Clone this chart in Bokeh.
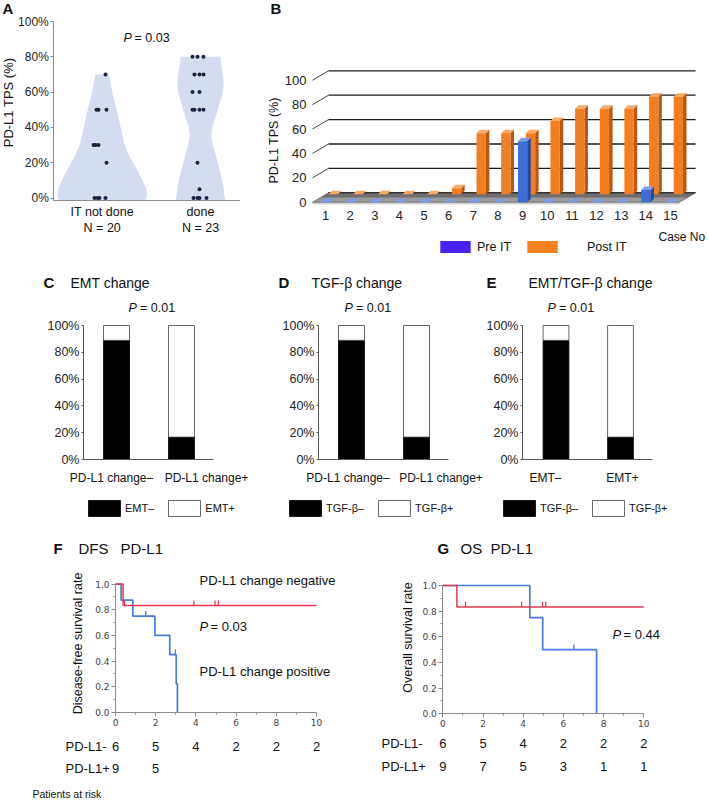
import math
from bokeh.plotting import figure
from bokeh.models import Range1d, FixedTicker, Label, Legend, LegendItem, PrintfTickFormatter
from bokeh.layouts import row, column
from bokeh.embed import file_html
from bokeh.resources import INLINE

FONT = "Liberation Sans"
SMALL_FONT = "DejaVu Sans"
INK = "#111111"

# ================= DATA =================
# Panel A: PD-L1 TPS (%) by immunotherapy status
a_groups = ["IT not done", "done"]
a_group_n = [20, 23]
a_tps_not_done = [70, 50, 50, 50, 30, 30, 30, 20, 0, 0, 0, 0]
a_tps_done = [80, 80, 80, 70, 70, 70, 60, 60, 50, 50, 50, 50, 20, 5, 0, 0, 0, 0]
# violin outlines: level (%) and half width (group units)
a_violin_levels_nd = [-1.4, 1, 5, 10, 18, 24, 31, 40, 50, 60, 70]
a_violin_half_nd = [0.44, 0.455, 0.45, 0.41, 0.336, 0.275, 0.224, 0.188, 0.148, 0.102, 0.071]
a_violin_levels_d = [-1.4, 5, 10, 20, 30, 35, 40, 50, 60, 65, 70, 75, 80]
a_violin_half_d = [0.251, 0.237, 0.221, 0.176, 0.125, 0.109, 0.119, 0.176, 0.227, 0.237, 0.227, 0.211, 0.203]

# Panel B: PD-L1 TPS (%) per case, pre / post immunotherapy
b_cases = list(range(1, 16))
b_pre_it = [0, 0, 0, 0, 0, 0, 0, 0, 50, 0, 0, 0, 0, 10, 0]
b_post_it = [0, 0, 0, 0, 0, 5, 50, 50, 50, 60, 70, 70, 70, 80, 80]
b_ticks = [0, 20, 40, 60, 80, 100]

# Panels C, D, E: % negative (black) in each group
c_categories = ["PD-L1 change\u2013", "PD-L1 change+"]
c_emt_neg = [88.9, 16.7]
d_categories = ["PD-L1 change\u2013", "PD-L1 change+"]
d_tgf_neg = [88.9, 16.7]
e_categories = ["EMT\u2013", "EMT+"]
e_tgf_neg = [88.9, 16.7]
pct_ticks = [0, 20, 40, 60, 80, 100]

# Panel F: DFS Kaplan-Meier
f_neg_t = [0, 0.38, 10]
f_neg_s = [1.0, 0.833, 0.833]
f_neg_cens_t = [0.45, 3.9, 4.95, 5.12]
f_neg_cens_s = [0.833, 0.833, 0.833, 0.833]
f_pos_t = [0, 0.28, 0.86, 1.96, 2.70, 3.02, 3.08]
f_pos_s = [1.0, 0.875, 0.75, 0.6, 0.45, 0.225, 0.0]
f_pos_cens_t = [1.5, 2.98]
f_pos_cens_s = [0.75, 0.45]
# Panel G: OS Kaplan-Meier
g_neg_t = [0, 0.70, 10]
g_neg_s = [1.0, 0.833, 0.833]
g_neg_cens_t = [1.13, 3.92, 4.96, 5.12]
g_neg_cens_s = [0.833, 0.833, 0.833, 0.833]
g_pos_t = [0, 4.33, 4.97, 7.65]
g_pos_s = [1.0, 0.75, 0.5, 0.0]
g_pos_cens_t = [6.52]
g_pos_cens_s = [0.5]
# numbers at risk
risk_times = [0, 2, 4, 6, 8, 10]
f_risk_neg = [6, 5, 4, 2, 2, 2]
f_risk_pos = [9, 5]
g_risk_neg = [6, 5, 4, 2, 2, 2]
g_risk_pos = [9, 7, 5, 3, 1, 1]

RED = "#e03a4f"
BLUE = "#4a7adb"


# ================= HELPERS =================
def make_panel(x0, y0, w, h, xmap, ymap):
    """xmap/ymap = (pixel anchor, data value at anchor, pixels per data unit)."""
    def X(px):
        return xmap[1] + (px - xmap[0]) / xmap[2]

    def Y(py):
        return ymap[1] + (ymap[0] - py) / ymap[2]
    p = figure(width=w, height=h, x_range=Range1d(X(x0), X(x0 + w)),
               y_range=Range1d(Y(y0 + h), Y(y0)),
               output_backend="svg", toolbar_location=None, title=None,
               min_border_left=0, min_border_right=0, min_border_top=0, min_border_bottom=0)
    p.outline_line_color = None
    p.xgrid.visible = False
    p.ygrid.visible = False
    p.border_fill_color = "white"
    p.background_fill_color = "white"
    return p, X, Y


def txt(p, x, y, text, size, style="normal", align="left", angle=0.0, color=INK, font=FONT):
    p.add_layout(Label(x=x, y=y, text=text, text_font=font, text_font_size=f"{size}px",
                       text_font_style=style, text_align=align, text_baseline="middle",
                       angle=angle, text_color=color))


def style_axis(ax, size, color="#222222", font=FONT, line=None, tick_out=0, standoff=4):
    ax.major_label_text_font = font
    ax.major_label_text_font_size = f"{size}px"
    ax.major_label_text_color = color
    ax.axis_line_color = line
    ax.major_tick_line_color = line if tick_out else None
    ax.major_tick_out = tick_out
    ax.major_tick_in = 0
    ax.minor_tick_line_color = None
    ax.major_label_standoff = standoff


def legend(items, loc, gw, gh, standoff, spacing, size):
    return Legend(items=[LegendItem(label=l, renderers=[r]) for l, r in items], location=loc,
                  orientation="horizontal", glyph_width=int(gw), glyph_height=int(gh),
                  label_height=int(gh), label_standoff=int(standoff), spacing=int(spacing),
                  padding=0, margin=0, border_line_color=None, background_fill_alpha=0,
                  label_text_font=FONT, label_text_font_size=f"{size}px", label_text_color=INK)


# ================= PANEL A =================
pa, AX, AY = make_panel(0, 0, 240, 260, (101.7, 1, 98.3), (197.5, 0, 1.765))
a_unit_px = 98.3
a_jitter_nd_px = [3.3, -5.7, -3.7, 4.3, -8.7, -6.7, -3.7, 4.3, -7.7, -4.7, -2.7, 3.3]
a_jitter_d_px = [-8, -3, 3, -6, -1, 3, -8, -1, -8, -6, -1, 3, -3, -1, -7, -3, -1, 6]
for gi, (lv, hw) in enumerate([(a_violin_levels_nd, a_violin_half_nd),
                               (a_violin_levels_d, a_violin_half_d)], start=1):
    xs = [gi - h for h in hw] + [gi + h for h in reversed(hw)]
    ys = list(lv) + list(reversed(lv))
    pa.patch(xs, ys, fill_color="#d4dcef", line_color=None)
pa.scatter(x=[1 + j / a_unit_px for j in a_jitter_nd_px], y=a_tps_not_done,
           size=4, fill_color="#1c2340", line_color=None)
pa.scatter(x=[2 + j / a_unit_px for j in a_jitter_d_px], y=a_tps_done,
           size=4, fill_color="#1c2340", line_color=None)
ya = pa.yaxis[0]
ya.ticker = FixedTicker(ticks=pct_ticks)
ya.formatter = PrintfTickFormatter(format="%d%%")
ya.fixed_location = AX(53.3)
ya.bounds = (AY(200), 100)
style_axis(ya, 12, line="#8c8c8c", tick_out=3, standoff=2)
xa = pa.xaxis[0]
xa.ticker = FixedTicker(ticks=[1, 2])
xa.major_label_overrides = {i + 1: f"{g}\nN = {n}" for i, (g, n) in enumerate(zip(a_groups, a_group_n))}
xa.fixed_location = AY(200)
xa.bounds = (AX(53.3), AX(240))
style_axis(xa, 12.5, color=INK, line="#8c8c8c", standoff=4)
txt(pa, AX(2), AY(8), "A", 15, style="bold")
txt(pa, AX(8), AY(102), "PD-L1 TPS (%)", 13, align="center", angle=math.pi / 2)
txt(pa, AX(123), AY(37), "P", 12.5, style="italic")
txt(pa, AX(134), AY(37), "= 0.03", 12.5)

# ================= PANEL B =================
pb, BX, BY = make_panel(240, 0, 469, 260, (325, 1, 24.64), (201.7, 0, 1.22))
wall_dx, wall_dy = 0.65, 7.7
x_front = BX(312)
x_end = BX(695)
gv = b_ticks[1:]
# floor
pb.patch([x_front, x_end - wall_dx, x_end - wall_dx, x_front], [0, 0, -1.8, -1.8],
         fill_color="#d2d2d2", line_color=None)
pb.patch([x_front, x_end - wall_dx, x_end, x_front + wall_dx], [0, 0, wall_dy, wall_dy],
         fill_color="#9a9a9a", line_color="#6a6a6a", line_width=0.8)
pb.patch([x_front + wall_dx * 0.5, x_end - wall_dx * 0.5, x_end, x_front + wall_dx],
         [wall_dy * 0.5, wall_dy * 0.5, wall_dy, wall_dy],
         fill_color="#6f6f6f", line_color=None)
pb.segment(x0=[x_front + wall_dx], y0=[wall_dy], x1=[x_end], y1=[wall_dy],
           line_color="#333333", line_width=1.4)
# back-wall gridlines and left edges
pb.segment(x0=[x_front + wall_dx] * len(gv), y0=[v + wall_dy for v in gv],
           x1=[x_end] * len(gv), y1=[v + wall_dy for v in gv], line_color="#1a1a1a", line_width=1.3)
pb.segment(x0=[x_front] * len(gv), y0=gv, x1=[x_front + wall_dx] * len(gv),
           y1=[v + wall_dy for v in gv], line_color="#444444", line_width=1)


def bars3d(p, centers, vals, base, c_front, c_side, c_top):
    hw, ddx, ddy = 0.19, 0.14, 2.9
    L = [c - hw for c in centers]
    R = [c + hw for c in centers]
    T = [base + v for v in vals]
    side_x = [[r, r + ddx, r + ddx, r] for r in R]
    side_y = [[base, base + ddy, t + ddy, t] for t in T]
    top_x = [[l, r, r + ddx, l + ddx] for l, r in zip(L, R)]
    top_y = [[t, t, t + ddy, t + ddy] for t in T]
    p.patches(side_x, side_y, fill_color=c_side, line_color=None)
    p.patches(top_x, top_y, fill_color=c_top, line_color=None)
    return p.quad(left=L, right=R, bottom=[base] * len(vals), top=T, fill_color=c_front, line_color=None)


bars3d(pb, [c + 0.32 for c in b_cases], b_post_it, 6.5, "#f37e22", "#b9560f", "#f9a866")
bars3d(pb, b_cases, b_pre_it, 0, "#3b6fd3", "#234a9c", "#7b9fe6")
yb = pb.yaxis[0]
yb.ticker = FixedTicker(ticks=b_ticks)
yb.fixed_location = BX(310)
yb.bounds = (0, 100)
style_axis(yb, 13, color="#222222", standoff=4)
xb = pb.xaxis[0]
xb.ticker = FixedTicker(ticks=b_cases)
xb.fixed_location = BY(206)
xb.bounds = (BX(312), BX(695))
style_axis(xb, 13, color="#222222", standoff=4)
# legend swatches (drawn off the visible area; only their legend glyphs show)
off = BY(400)
r_pre = pb.quad(left=[1], right=[2], top=[off], bottom=[off - 1], fill_color="#4a22ee", line_color=None)
r_post = pb.quad(left=[1], right=[2], top=[off], bottom=[off - 1], fill_color="#f5821f", line_color=None)
pb.add_layout(legend([("Pre IT", r_pre)], (436 - 240, 6), 38, 15, 3, 0, 12.5))
pb.add_layout(legend([("Post IT", r_post)], (523 - 240, 6), 38, 15, 26, 0, 12.5))
txt(pb, BX(270), BY(8), "B", 15, style="bold")
txt(pb, BX(273), BY(140), "PD-L1 TPS (%)", 12.5, align="center", angle=math.pi / 2)
txt(pb, BX(658), BY(236), "Case No", 12)


# ================= PANELS C, D, E =================
def stacked_panel(x0, w, bar1_px, unit_px, axis_px, xend_px, label_px, cats, neg, letter, title,
                  letter_x, title_x, p_x, leg_x, leg_labels, leg_spacing):
    p, X, Y = make_panel(x0, 260, w, 270, (bar1_px, 1, unit_px), (459, 0, 1.34))
    xs = [1, 2]
    rb = p.vbar(x=xs, width=0.4, bottom=0, top=neg, fill_color="black", line_color="black", line_width=0.8)
    rw = p.vbar(x=xs, width=0.4, bottom=neg, top=[100] * len(neg), fill_color="white",
                line_color="#444444", line_width=0.8)
    yax = p.yaxis[0]
    yax.ticker = FixedTicker(ticks=pct_ticks)
    yax.formatter = PrintfTickFormatter(format="%d%%")
    yax.fixed_location = X(axis_px)
    yax.bounds = (0, 100)
    style_axis(yax, 12.5, color="#222222", line="#555555", tick_out=2, standoff=2)
    xax = p.xaxis[0]
    lab_pos = [X(v) for v in label_px]
    xax.ticker = FixedTicker(ticks=lab_pos)
    xax.major_label_overrides = {lab_pos[0]: cats[0], lab_pos[1]: cats[1]}
    xax.fixed_location = 0
    xax.bounds = (X(axis_px), X(xend_px))
    style_axis(xax, 12, color=INK, line="#555555", standoff=11)
    p.add_layout(legend([(leg_labels[0], rb), (leg_labels[1], rw)], (leg_x - 4 - x0, 530 - 518),
                        40, 20, 1, leg_spacing, 11))
    txt(p, X(letter_x), Y(282), letter, 15, style="bold")
    txt(p, X(title_x), Y(282), title, 14)
    txt(p, X(p_x), Y(307), "P", 12.5, style="italic")
    txt(p, X(p_x + 11.5), Y(307), "= 0.01", 12.5)
    return p


pc = stacked_panel(0, 256, 116, 65, 83, 213, (111, 206), c_categories, c_emt_neg, "C", "EMT change",
                   43, 70, 128, 88, ["EMT\u2013", "EMT+"], 10)
pd_ = stacked_panel(256, 230, 351, 65, 318, 448, (347.5, 440.5), d_categories, d_tgf_neg, "D",
                    "TGF-\u03b2 change", 278, 311, 344, 289, ["TGF-\u03b2\u2013", "TGF-\u03b2+"], 10)
pe = stacked_panel(486, 223, 555.5, 64.5, 522, 652, (545, 622), e_categories, e_tgf_neg, "E",
                   "EMT/TGF-\u03b2 change", 486, 528, 547, 503, ["TGF-\u03b2\u2013", "TGF-\u03b2+"], 10)


# ================= PANELS F, G =================
def km_panel(x0, w, zero_px, zero_py, unit_y, ylabel, ylab_pos, neg, pos, letter, letter_x, words,
             pvals, risk_neg, risk_pos, risk_x, risk_y, risk_size):
    p, X, Y = make_panel(x0, 530, w, 271, (zero_px, 0, 20.1), (zero_py, 0, unit_y))
    nt, ns, nct, ncs = neg
    pt, ps, pct, pcs = pos
    p.step(pt, ps, mode="after", line_color=BLUE, line_width=1.7)
    p.step(nt, ns, mode="after", line_color=RED, line_width=1.5)
    p.segment(x0=nct, y0=ncs, x1=nct, y1=[s + 0.04 for s in ncs], line_color=RED, line_width=1.3)
    p.segment(x0=pct, y0=pcs, x1=pct, y1=[s + 0.04 for s in pcs], line_color=BLUE, line_width=1.3)
    xax = p.xaxis[0]
    xax.ticker = FixedTicker(ticks=[0, 2, 4, 6, 8, 10], minor_ticks=[1, 3, 5, 7, 9])
    xax.fixed_location = 0
    xax.bounds = (0, 10)
    yax = p.yaxis[0]
    yax.ticker = FixedTicker(ticks=[0, 0.2, 0.4, 0.6, 0.8, 1.0], minor_ticks=[0.1, 0.3, 0.5, 0.7, 0.9])
    yax.formatter = PrintfTickFormatter(format="%.1f")
    yax.fixed_location = 0
    yax.bounds = (0, 1.0)
    for ax in (xax, yax):
        ax.axis_line_color = "#8a8a8a"
        ax.major_tick_line_color = "#8a8a8a"
        ax.minor_tick_line_color = "#8a8a8a"
        ax.major_tick_out = 4
        ax.major_tick_in = 0
        ax.minor_tick_out = 2
        ax.minor_tick_in = 0
        ax.major_label_text_font = SMALL_FONT
        ax.major_label_text_font_size = "9px"
        ax.major_label_text_color = "#444444"
        ax.major_label_standoff = 2
    txt(p, X(ylab_pos[0]), Y(ylab_pos[1]), ylabel, 12.5, align="center", angle=math.pi / 2)
    txt(p, X(letter_x), Y(548), letter, 15, style="bold")
    for wx, wt in words:
        txt(p, X(wx), Y(548), wt, 15)
    for (px_, py_, t_, st_) in pvals:
        txt(p, X(px_), Y(py_), t_, 13, style=st_)
    txt(p, X(risk_x), Y(risk_y[0]), "PD-L1-", risk_size)
    txt(p, X(risk_x), Y(risk_y[1]), "PD-L1+", risk_size)
    for t, n in zip(risk_times, risk_neg):
        txt(p, t, Y(risk_y[0]), str(n), risk_size, align="center")
    for t, n in zip(risk_times, risk_pos):
        txt(p, t, Y(risk_y[1]), str(n), risk_size, align="center")
    return p, X, Y


pf, FX, FY = km_panel(0, 360, 115, 712, 128.4, "Disease-free survival rate", (77, 643),
                      (f_neg_t, f_neg_s, f_neg_cens_t, f_neg_cens_s),
                      (f_pos_t, f_pos_s, f_pos_cens_t, f_pos_cens_s),
                      "F", 53, [(78, "DFS"), (120, "PD-L1")],
                      [(199, 580, "PD-L1 change negative", "normal"), (199, 626, "P", "italic"),
                       (210, 626, "= 0.03", "normal"), (199, 671, "PD-L1 change positive", "normal")],
                      f_risk_neg, f_risk_pos, 65, (746, 768), 13)
txt(pf, FX(32), FY(793), "Patients at risk", 10.5)

pg, GX, GY = km_panel(360, 349, 442.3, 713.3, 128.3, "Overall survival rate", (407, 637),
                      (g_neg_t, g_neg_s, g_neg_cens_t, g_neg_cens_s),
                      (g_pos_t, g_pos_s, g_pos_cens_t, g_pos_cens_s),
                      "G", 437, [(460, "OS"), (490, "PD-L1")],
                      [(612, 634, "P", "italic"), (623, 634, "= 0.44", "normal")],
                      g_risk_neg, g_risk_pos, 381, (743, 766), 13)

layout = column(row(pa, pb), row(pc, pd_, pe), row(pf, pg))
open("out.html", "w").write(file_html(layout, INLINE))
